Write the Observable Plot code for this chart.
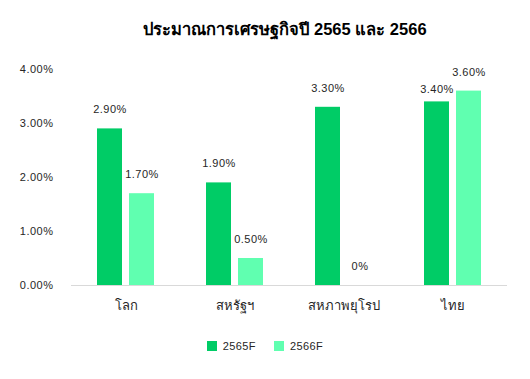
<!DOCTYPE html>
<html><head><meta charset="utf-8">
<script src="https://cdn.jsdelivr.net/npm/d3@7"></script>
<script src="https://cdn.jsdelivr.net/npm/@observablehq/plot@0.6"></script>
<style>
html,body{margin:0;padding:0;background:#fff;}
#wrap{width:530px;height:379px;position:relative;font-family:"Liberation Sans",Arial,"Noto Sans",sans-serif;}
#title{position:absolute;left:0;top:0;width:570px;height:55px;line-height:58px;text-align:center;font-weight:bold;font-size:16.5px;color:#000;}
#chart{position:absolute;left:0;top:55px;}
#legend{position:absolute;left:0;top:340px;width:530px;text-align:center;font-size:11px;color:#262626;letter-spacing:0.4px;}
.item{display:inline-flex;align-items:center;margin:0 9px;}
.sw{display:inline-block;width:10px;height:10px;margin-right:6px;}
</style></head>
<body><div id="wrap"><div id="title"></div><div id="chart"></div><div id="legend"></div></div>
<script>
const title = "ประมาณการเศรษฐกิจปี 2565 และ 2566";
const categories = ["โลก","สหรัฐฯ","สหภาพยุโรป","ไทย"];
const series = ["2565F","2566F"];
const values2565 = [2.9,1.9,3.3,3.4];
const values2566 = [1.7,0.5,0,3.6];
const yTicks = [0,1,2,3,4];
const colors = ["#00CC66","#60FFB0"];

const data = [];
categories.forEach((c,i)=>{
  data.push({cat:c, series:series[0], value:values2565[i]});
  data.push({cat:c, series:series[1], value:values2566[i]});
});
const fmt = v => v === 0 ? "0%" : v.toFixed(2) + "%";
const isShifted = d => d.cat === "ไทย" && d.series === "2565F";

document.getElementById("title").textContent = title;

const chart = Plot.plot({
  width:530, height:270,
  marginLeft:70, marginRight:23, marginTop:14, marginBottom:40,
  style:{fontFamily:'"Liberation Sans",Arial,sans-serif', fontSize:"11px", color:"#262626", background:"#fff", letterSpacing:"0.5px"},
  fx:{domain:categories, padding:0, label:null, tickSize:0, tickPadding:15, axis:"bottom"},
  x:{domain:series, axis:null, paddingInner:0.22, paddingOuter:0.81},
  y:{domain:[0,4], ticks:yTicks, tickFormat:d=>d.toFixed(2)+"%", label:null, tickSize:0, tickPadding:18},
  color:{domain:series, range:colors},
  marks:[
    Plot.ruleY([0],{stroke:"#d9d9d9", strokeWidth:1}),
    Plot.barY(data,{fx:"cat", x:"series", y:"value", fill:"series"}),
    Plot.text(data.filter(d=>!isShifted(d)),{fx:"cat", x:"series", y:"value", text:d=>fmt(d.value), dy:-19, fill:"#262626", fontSize:11}),
    Plot.text(data.filter(isShifted),{fx:"cat", x:"series", y:"value", text:d=>fmt(d.value), dy:-12, fill:"#262626", fontSize:11})
  ]
});
chart.querySelectorAll('[aria-label="fx-axis tick label"] text').forEach(t=>{t.style.fontSize="13px";t.style.letterSpacing="0px";});
document.getElementById("chart").appendChild(chart);

const lg = document.getElementById("legend");
series.forEach((s,i)=>{
  const it = document.createElement("span"); it.className="item";
  const sw = document.createElement("span"); sw.className="sw"; sw.style.background=colors[i];
  it.appendChild(sw); it.appendChild(document.createTextNode(s));
  lg.appendChild(it);
});
</script></body></html>
